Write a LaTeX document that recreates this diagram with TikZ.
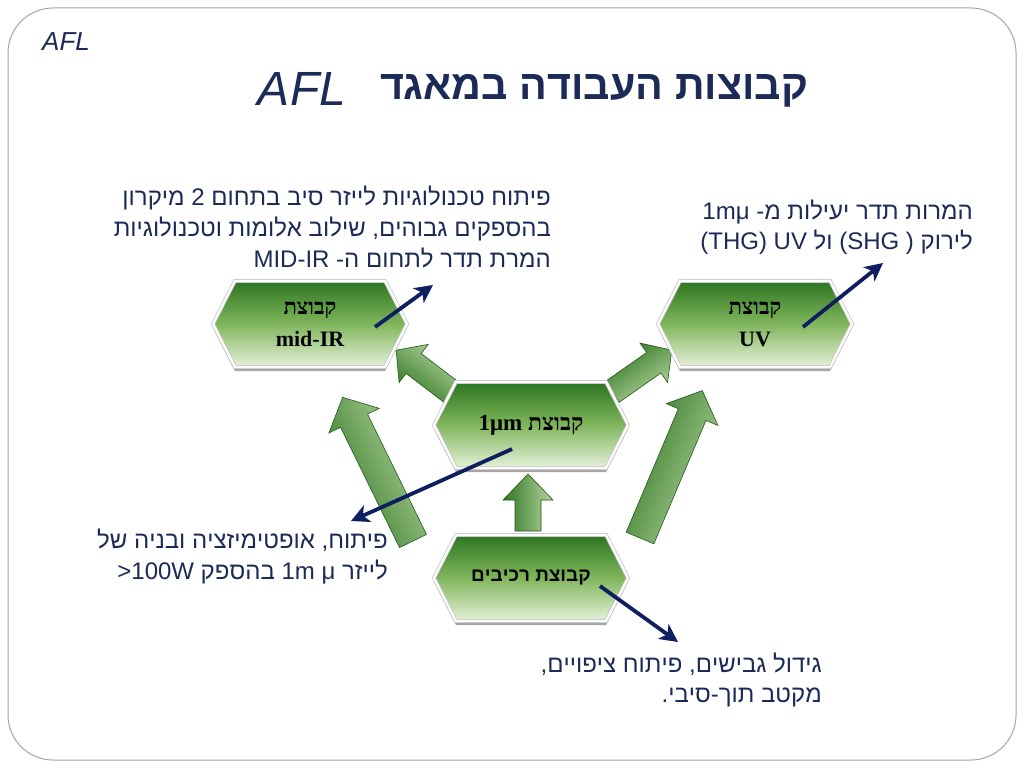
\documentclass[tikz,border=0pt]{standalone}
\usepackage{fontspec}
\setmainfont{Liberation Sans}
\newfontfamily\hebsans{Liberation Sans}
\newfontfamily\hebserif{Liberation Serif}
\TeXXeTstate=1
\newcommand\hebR[1]{\beginR #1\endR}
\usetikzlibrary{shapes.symbols,shadows,arrows.meta}
\definecolor{navy}{HTML}{1B2A57}
\definecolor{arrnavy}{HTML}{0E1E5E}
\definecolor{gdark}{HTML}{2C7520}
\definecolor{gmid}{HTML}{80B65C}
\definecolor{glight}{HTML}{E6F1DA}
\tikzset{
  hexbox/.style={signal, signal to=east and west, signal pointer angle=126,
    minimum width=194pt, minimum height=86pt, inner sep=0pt,
    draw=gray!45, line width=0.8pt, double=white, double distance=2.2pt,
    top color=gdark, bottom color=glight, middle color=gmid,
    drop shadow={shadow xshift=0pt, shadow yshift=-4pt, opacity=0.35, fill=black},
    align=center, text=black},
  navyarrow/.style={draw=arrnavy, line width=3.8pt,
    -{Stealth[length=18pt,width=18pt,inset=5pt]}},
  txt/.style={font=\fontsize{24}{31}\selectfont, text=navy, inner sep=0pt},
  boxfont/.style={font=\fontsize{22}{32}\selectfont\bfseries}
}
% block arrow: tail x, tail y, angle, length, half shaft, half head, head length
\newcommand\barrow[7]{%
  \begin{scope}[shift={(#1,#2)}, rotate=#3]
    \path[draw=gdark!75!black, line width=0.6pt, top color=gdark, bottom color=glight!55!gmid, shading angle=#3]
      (0,-#5) -- (#4-#7,-#5) -- (#4-#7,-#6) -- (#4,0) -- (#4-#7,#6) -- (#4-#7,#5) -- (0,#5) -- cycle;
  \end{scope}}
\begin{document}
\begin{tikzpicture}[x=1pt,y=-1pt]
\useasboundingbox (0,0) rectangle (1024,768);
\fill[white] (0,0) rectangle (1024,768);
\draw[gray!70, line width=1pt, rounded corners=45pt] (8,8) rectangle (1016,760);

% titles
\node[text=navy, font=\fontsize{26}{26}\selectfont\itshape, inner sep=0pt] (afl) at (66,42) {AFL};
\node[text=navy, font=\fontsize{48}{48}\selectfont\itshape, inner sep=0pt] (afltitle) at (302,89) {AFL};
\node[text=navy, inner sep=0pt] (title) at (594,91)
  {\resizebox{428pt}{!}{\fontsize{40}{40}\selectfont\hebsans\bfseries\hebR{קבוצות העבודה במאגד}}};

% block arrows
\barrow{455}{395}{142.7}{74}{12.5}{24}{22}
\barrow{413}{541}{116.1}{160}{15}{28}{26}
\barrow{612}{392}{35}{73}{12.5}{24}{22}
\barrow{640}{538}{67.1}{160}{15}{28}{26}
\barrow{528}{531}{90}{57}{13}{25}{26}

% boxes
\node[hexbox, boxfont] (midir) at (310,324) {\hebserif\hebR{קבוצת}\\ \hebserif mid-IR};
\node[hexbox, boxfont] (uv) at (755,324) {\hebserif\hebR{קבוצת}\\ \hebserif UV};
\node[hexbox, font=\fontsize{23}{32}\selectfont\bfseries] (onemu) at (531,425) {\hebserif 1μm \hebR{קבוצת}};
\node[hexbox, font=\fontsize{19}{24}\selectfont\bfseries] (comp) at (531,578) {\hebsans\hebR{קבוצת רכיבים}};

% navy arrows
\coordinate (m1) at (375,327);
\coordinate (m2) at (433,285);
\coordinate (u1) at (803,327);
\coordinate (u2) at (883,263);
\coordinate (o1) at (512,449);
\coordinate (o2) at (351,521);
\coordinate (c1) at (600,586);
\coordinate (c2) at (678,642);
\draw[navyarrow] (m1) -- (m2);
\draw[navyarrow] (u1) -- (u2);
\draw[navyarrow] (o1) -- (o2);
\draw[navyarrow] (c1) -- (c2);

% text blocks
\node[txt, anchor=base east] (t1a) at (551,205) {\hebR{פיתוח טכנולוגיות לייזר סיב בתחום 2 מיקרון}};
\node[txt, anchor=base east] (t1b) at (551,236) {\hebR{בהספקים גבוהים, שילוב אלומות וטכנולוגיות}};
\node[txt, anchor=base east] (t1c) at (551,267) {MID-IR \hebR{המרת תדר לתחום ה-}};

\node[txt, anchor=base east] (t2a) at (973,219) {1mμ \hebR{המרות תדר יעילות מ-}};
\node[txt, anchor=base east] (t2b) at (973,249) {(THG) UV \hebR{ול} (SHG ) \hebR{לירוק}};

\node[txt, anchor=base east] (t3a) at (388,548) {\hebR{פיתוח, אופטימיזציה ובניה של}};
\node[txt, anchor=base east] (t3b) at (388,579) {>100W \hebR{בהספק} 1m μ \hebR{לייזר}};

\node[txt, anchor=base east] (t4a) at (822,672) {\hebR{גידול גבישים, פיתוח ציפויים,}};
\node[txt, anchor=base east] (t4b) at (822,702) {\hebR{מקטב תוך-סיבי.}};
\end{tikzpicture}
\end{document}
